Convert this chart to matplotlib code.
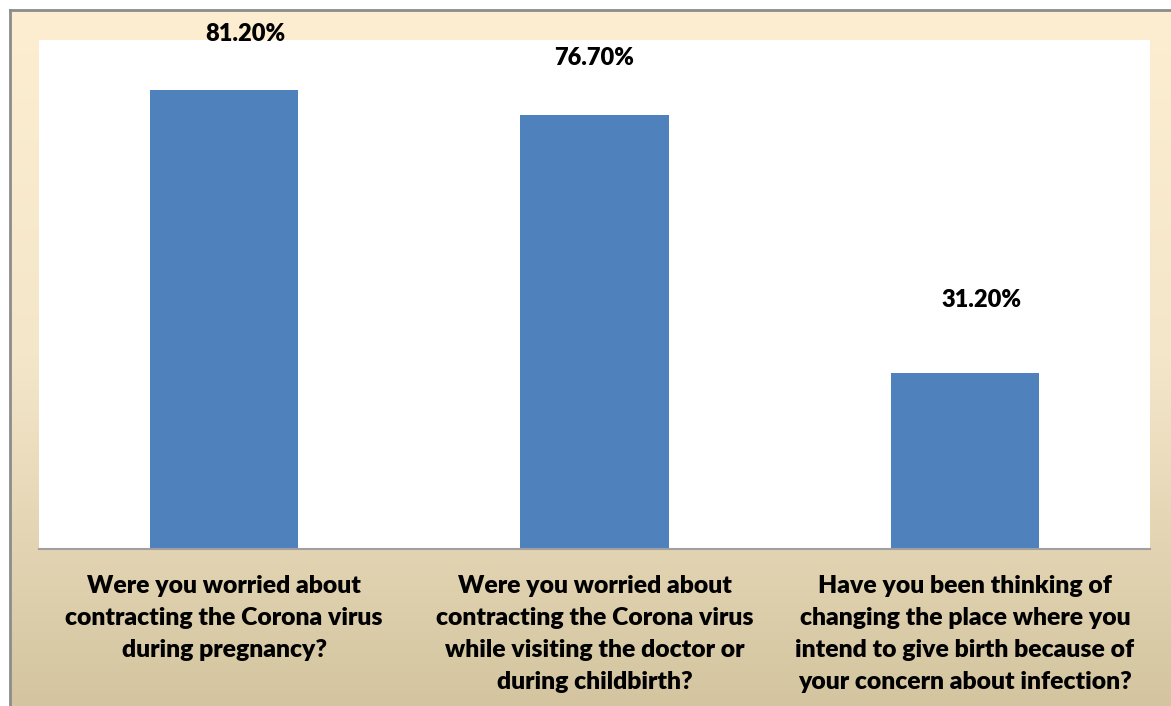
import numpy as np
import matplotlib.pyplot as plt
from matplotlib.colors import LinearSegmentedColormap

# data
categories = [
    "Were you worried about\ncontracting the Corona virus\nduring pregnancy?",
    "Were you worried about\ncontracting the Corona virus\nwhile visiting the doctor or\nduring childbirth?",
    "Have you been thinking of\nchanging the place where you\nintend to give birth because of\nyour concern about infection?",
]
values = [81.2, 76.7, 31.2]
value_labels = ["81.20%", "76.70%", "31.20%"]

plt.rcParams['font.family'] = ['Lato', 'DejaVu Sans']

fig = plt.figure(figsize=(11.71, 7.06), dpi=100)

# beige gradient background with grey frame
bg = fig.add_axes([10 / 1171, 0, 1161 / 1171, 696 / 706])
grad = LinearSegmentedColormap.from_list('bg', ['#FDEED1', '#F4E6C9', '#D4C5A0'])
bg.imshow(np.linspace(0, 1, 256).reshape(-1, 1), aspect='auto', cmap=grad,
          extent=[0, 1, 0, 1])
bg.set_xlim(0, 1)
bg.set_ylim(0, 1)
bg.set_xticks([])
bg.set_yticks([])
for s in ['right', 'bottom']:
    bg.spines[s].set_visible(False)
for s in ['top', 'left']:
    bg.spines[s].set_color('#8C8C8C')
    bg.spines[s].set_linewidth(2)

ax = fig.add_axes([39 / 1171, 1 - 549 / 706, 1111 / 1171, 509 / 706])
ax.set_facecolor('white')
x = np.arange(len(values))
ax.bar(x, values, width=0.4, color='#4F81BD')
ax.set_xlim(-0.5, 2.5)
ax.set_ylim(0, 90)

# data labels (manually placed like the original)
label_dx = [21, 0, 17]
label_dy = [56, 57, 73]
for xi, v, lab, dx, dy in zip(x, values, value_labels, label_dx, label_dy):
    ax.annotate(lab, (xi, v), xytext=(dx, dy), textcoords='offset pixels',
                ha='center', va='center', fontsize=17, fontweight='heavy',
                annotation_clip=False)

ax.set_xticks(x)
ax.set_xticklabels(categories, fontsize=17.8, fontweight='heavy', linespacing=1.55)
ax.tick_params(axis='x', length=0, pad=19)
ax.set_yticks([])
for s in ['top', 'right', 'left']:
    ax.spines[s].set_visible(False)
ax.spines['bottom'].set_color('#A0A0A0')
ax.spines['bottom'].set_linewidth(1.5)

plt.savefig('out.png', dpi=100)
